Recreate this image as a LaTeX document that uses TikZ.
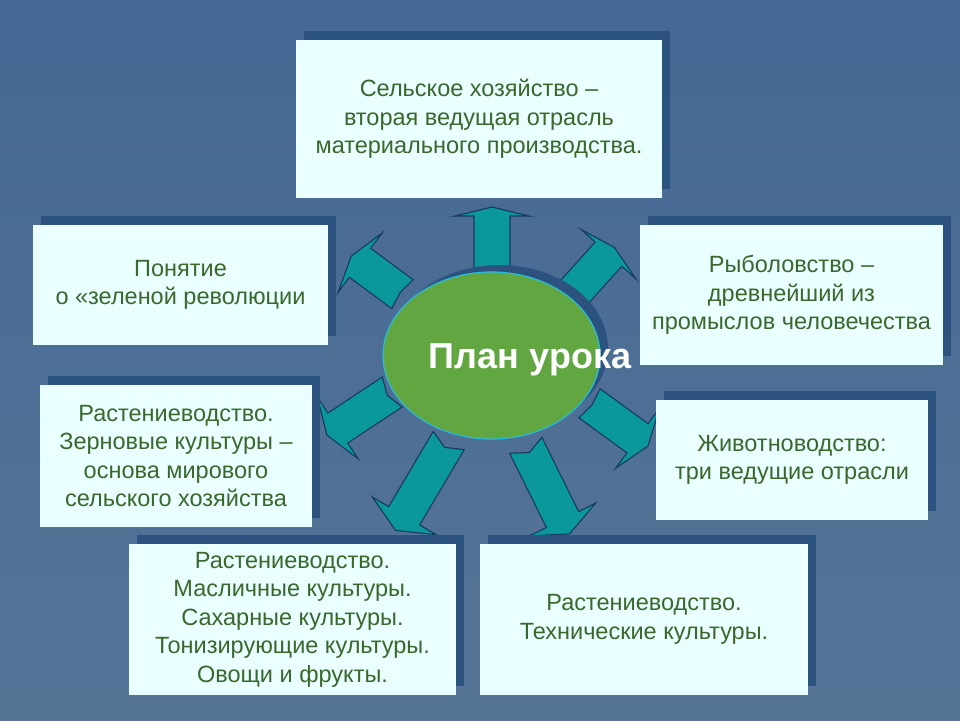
\documentclass[tikz,border=0pt]{standalone}
\usepackage{fontspec}
\setmainfont{Liberation Sans}
\usetikzlibrary{calc,shapes.geometric,shadows}
\definecolor{bgtop}{RGB}{68,104,148}
\definecolor{bgbot}{RGB}{86,116,150}
\definecolor{shadowblue}{RGB}{44,82,128}
\definecolor{boxfill}{RGB}{234,255,255}
\definecolor{txtgreen}{RGB}{58,104,44}
\definecolor{arrowfill}{RGB}{10,152,155}
\definecolor{arrowline}{RGB}{22,58,98}
\definecolor{ellfill}{RGB}{98,166,66}
\definecolor{ellline}{RGB}{40,190,215}
\tikzset{
  boxshadow/.style={drop shadow={opacity=1,fill=shadowblue,shadow xshift=8pt,shadow yshift=9pt}},
  infobox/.style={boxshadow,fill=boxfill,draw=none,text=txtgreen,align=center,
    font=\fontsize{23.5}{28.5}\selectfont,inner sep=0pt},
  blockarr/.style={fill=arrowfill,draw=arrowline,line width=1.1pt,line join=miter},
  plantext/.style={font=\bfseries\fontsize{36}{40}\selectfont,inner sep=0pt}
}
\newcommand\blockarrow[4]{%
  \path[blockarr]
    ($#1!18pt!90:#2$) -- ($#1!#4!#2$) -- ($#1!18pt!-90:#2$)
    -- ($#2!18pt!90:#1$) -- ($#2!37pt!90:#1$) -- ($#2!-#3!#1$)
    -- ($#2!37pt!-90:#1$) -- ($#2!18pt!-90:#1$) -- cycle;}
\begin{document}
\begin{tikzpicture}[x=1pt,y=-1pt]
\useasboundingbox (0,0) rectangle (960,720);
\shade[top color=bgtop,bottom color=bgbot] (0,0) rectangle (960,720);
% arrows
\blockarrow{(492,275)}{(492,216)}{9pt}{0pt}
\blockarrow{(402.5,294.2)}{(360,262.8)}{11pt}{3pt}
\blockarrow{(572,294.6)}{(608.5,254.2)}{9pt}{0pt}
\blockarrow{(392.2,392)}{(337.8,428)}{13pt}{6pt}
\blockarrow{(589.5,403.3)}{(637.5,438.3)}{13pt}{3pt}
\blockarrow{(448.7,440.5)}{(404.2,515.8)}{17pt}{8pt}
\blockarrow{(525.8,445.3)}{(562.5,519.5)}{16pt}{8pt}
% centre
\node[ellipse,minimum width=217pt,minimum height=167pt,fill=ellfill,draw=ellline,
  line width=1.2pt,drop shadow={opacity=1,fill=shadowblue,shadow xshift=8pt,shadow yshift=7pt}]
  (plan) at (491.5,355.5) {};
\node[plantext,text=white] (plantxt) at (530,360) {План урока};
% boxes
\node[infobox,minimum width=366pt,minimum height=158pt] (agri) at (479,119)
  {Сельское хозяйство –\\вторая ведущая отрасль\\материального производства.};
\node[infobox,minimum width=295pt,minimum height=120pt] (green) at (180.5,285)
  {Понятие\\ о «зеленой революции};
\node[infobox,minimum width=303pt,minimum height=140pt] (fish) at (791.5,295)
  {Рыболовство –\\древнейший из\\промыслов человечества};
\node[infobox,minimum width=272pt,minimum height=142pt] (grain) at (176,456)
  {Растениеводство.\\Зерновые культуры –\\основа мирового\\сельского хозяйства};
\node[infobox,minimum width=272pt,minimum height=120pt] (animal) at (792,460)
  {Животноводство:\\три ведущие отрасли};
\node[infobox,minimum width=327pt,minimum height=151pt] (oil) at (292.5,619.5)
  {Растениеводство.\\Масличные культуры.\\Сахарные культуры.\\Тонизирующие культуры.\\Овощи и фрукты.};
\node[infobox,minimum width=328pt,minimum height=151pt] (tech) at (644,619.5)
  {Растениеводство.\\Технические культуры.};
\end{tikzpicture}
\end{document}
